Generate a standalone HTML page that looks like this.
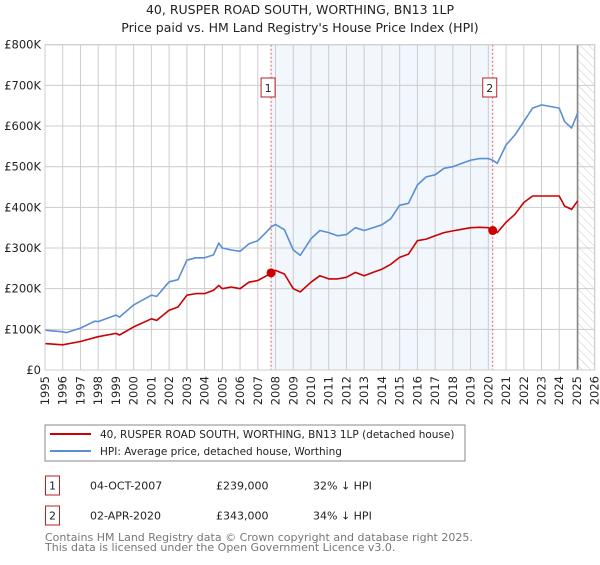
<!DOCTYPE html>
<html><head><meta charset="utf-8"><style>
body{margin:0;background:#fff;font-family:"Liberation Sans","DejaVu Sans",sans-serif;}
svg text{font-family:"DejaVu Sans","Liberation Sans",sans-serif;}
</style></head><body>
<svg width="600" height="560" viewBox="0 0 600 560" xmlns="http://www.w3.org/2000/svg">
<defs><pattern id="hatch" width="6" height="6" patternUnits="userSpaceOnUse" patternTransform="rotate(-45)"><line x1="0" y1="0" x2="0" y2="6" stroke="#ccc" stroke-width="1"/></pattern></defs>
<text x="300" y="14" text-anchor="middle" font-size="12.5" fill="#222">40, RUSPER ROAD SOUTH, WORTHING, BN13 1LP</text>
<text x="300" y="32" text-anchor="middle" font-size="12.5" fill="#222">Price paid vs. HM Land Registry's House Price Index (HPI)</text>
<g id="plot"></g>
<rect x="45" y="425" width="420" height="36" fill="#fff" stroke="#888"/>
<line x1="50" y1="434" x2="91" y2="434" stroke="#cc0000" stroke-width="2"/>
<text x="100" y="438" font-size="10.5" fill="#222">40, RUSPER ROAD SOUTH, WORTHING, BN13 1LP (detached house)</text>
<line x1="50" y1="451" x2="91" y2="451" stroke="#5b8fd4" stroke-width="2"/>
<text x="100" y="455" font-size="10.5" fill="#222">HPI: Average price, detached house, Worthing</text>
<g>
<rect x="45.5" y="476" width="14" height="19" fill="#fff" stroke="#b22"/>
<text x="52.5" y="489.5" text-anchor="middle" font-size="11" fill="#222">1</text>
<text x="90" y="489.5" font-size="11" fill="#222">04-OCT-2007</text>
<text x="216" y="489.5" font-size="11" fill="#222">£239,000</text>
<text x="313" y="489.5" font-size="11" fill="#222">32% ↓ HPI</text></g>
<g>
<rect x="45.5" y="506" width="14" height="19" fill="#fff" stroke="#b22"/>
<text x="52.5" y="519.5" text-anchor="middle" font-size="11" fill="#222">2</text>
<text x="90" y="519.5" font-size="11" fill="#222">02-APR-2020</text>
<text x="216" y="519.5" font-size="11" fill="#222">£343,000</text>
<text x="313" y="519.5" font-size="11" fill="#222">34% ↓ HPI</text></g>
<text x="45" y="541" font-size="11" fill="#777">Contains HM Land Registry data © Crown copyright and database right 2025.</text>
<text x="45" y="551" font-size="11" fill="#777">This data is licensed under the Open Government Licence v3.0.</text>
</svg>
<script>
const hpiYears=[1995,1996,1996.2,1997,1997.8,1998,1999,1999.2,2000,2001,2001.3,2002,2002.5,2003,2003.5,2004,2004.5,2004.8,2005,2005.5,2006,2006.5,2007,2007.5,2007.75,2008,2008.5,2009,2009.4,2010,2010.5,2011,2011.5,2012,2012.5,2013,2013.5,2014,2014.5,2015,2015.5,2016,2016.5,2017,2017.5,2018,2018.5,2019,2019.5,2020,2020.25,2020.5,2021,2021.5,2022,2022.5,2023,2023.5,2024,2024.3,2024.7,2025.04];
const hpiValues=[98,94,92,103,120,119,135,130,160,184,181,217,222,270,276,276,283,312,300,295,292,310,318,340,352,358,345,295,282,323,343,338,330,333,350,343,350,357,372,405,410,455,475,480,496,500,508,516,520,520,516,508,553,578,611,644,652,648,644,611,595,632];
const priceYears=[1995,1996,1997,1998,1999,1999.2,2000,2001,2001.3,2002,2002.5,2003,2003.5,2004,2004.5,2004.8,2005,2005.5,2006,2006.5,2007,2007.5,2007.75,2008,2008.5,2009,2009.4,2010,2010.5,2011,2011.5,2012,2012.5,2013,2013.5,2014,2014.5,2015,2015.5,2016,2016.5,2017,2017.5,2018,2018.5,2019,2019.5,2020,2020.25,2020.5,2021,2021.5,2022,2022.5,2023,2023.5,2024,2024.3,2024.7,2025.04];
const priceValues=[65,62,70,82,90,86,106,126,122,147,155,184,188,188,196,208,200,204,200,216,220,232,239,245,236,200,192,216,232,224,224,228,240,232,240,248,260,277,285,318,322,330,338,342,346,350,351,350,343,338,363,383,412,428,428,428,428,403,395,416];
const saleYears=[2007.75,2020.25];
const salePrices=[239,343];
const saleLabels=["1","2"];
const yTicks=[0,100,200,300,400,500,600,700,800];
const yTickLabels=["£0","£100K","£200K","£300K","£400K","£500K","£600K","£700K","£800K"];
const xTicks=[1995,1996,1997,1998,1999,2000,2001,2002,2003,2004,2005,2006,2007,2008,2009,2010,2011,2012,2013,2014,2015,2016,2017,2018,2019,2020,2021,2022,2023,2024,2025,2026];

const X0=45,X1=594.7,Y0=370,Y1=44.7;
const x=y=>X0+(y-1995)/31*(X1-X0);
const yv=v=>Y0-v/800*(Y0-Y1);
const NS="http://www.w3.org/2000/svg";
const g=document.getElementById('plot');
function mk(t,a,p){const e=document.createElementNS(NS,t);for(const k in a)e.setAttribute(k,a[k]);(p||g).appendChild(e);return e;}
let r=mk('rect',{x:x(saleYears[0]),y:Y1,width:x(saleYears[1])-x(saleYears[0]),height:Y0-Y1,fill:'#eef3fc',opacity:0.75});


r=mk('rect',{x:x(2025.04),y:Y1,width:X1-x(2025.04),height:Y0-Y1,fill:'url(#hatch)'});


yTicks.forEach((t,i)=>{
 const l=mk('line',{x1:X0,x2:X1,y1:yv(t),y2:yv(t),stroke:'#ccc'});
 
 
 const tx=mk('text',{x:X0-4,y:yv(t)+4,'text-anchor':'end','font-size':'11.5',fill:'#222'});
 tx.textContent=yTickLabels[i];
 
 
});
xTicks.forEach(t=>{
 const l=mk('line',{x1:x(t),x2:x(t),y1:Y1,y2:Y0,stroke:'#ccc'});
 
 
 const tx=mk('text',{x:0,y:0,'text-anchor':'end','font-size':'11.5',fill:'#222',transform:`translate(${x(t)+4},${Y0+6}) rotate(-90)`});
 tx.textContent=t;
 
 
});
r=mk('line',{x1:x(2025.04),x2:x(2025.04),y1:Y1,y2:Y0,stroke:'#888','stroke-width':1.5});


saleYears.forEach((s,i)=>{
 const l=mk('line',{x1:x(s),x2:x(s),y1:Y1,y2:Y0,stroke:'#e06060','stroke-dasharray':'2,2'});
 
 
});
function path(xs,vs,c,n){
 const p=mk('path',{d:xs.map((t,i)=>(i?'L':'M')+x(t).toFixed(1)+','+yv(vs[i]).toFixed(1)).join(''),fill:'none',stroke:c,'stroke-width':1.6,'stroke-linejoin':'round'});
 
 
}
path(hpiYears,hpiValues,'#5b8fd4','hpi-line');
path(priceYears,priceValues,'#cc0000','price-paid-line');
saleYears.forEach((s,i)=>{
 const c=mk('circle',{cx:x(s),cy:yv(salePrices[i]),r:4.5,fill:'#cc0000'});
 
 
 const b=mk('rect',{x:x(s)-10,y:78,width:14,height:19,fill:'#fff',stroke:'#b22'});
 
 
 const t=mk('text',{x:x(s)-3,y:92,'text-anchor':'middle','font-size':'11',fill:'#222'});
 t.textContent=saleLabels[i];
 
 
});
r=mk('rect',{x:X0,y:Y1,width:X1-X0,height:Y0-Y1,fill:'none',stroke:'#ccc'});


</script>
</body></html>
